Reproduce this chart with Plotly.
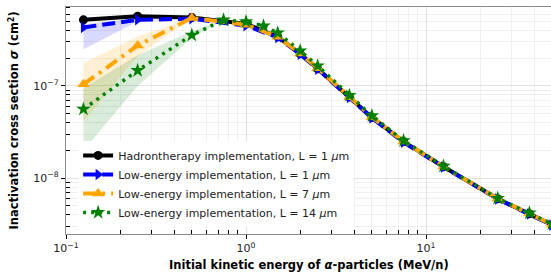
import plotly.graph_objects as go

# ---- data ----
energy = [0.125, 0.25, 0.5, 1, 1.5, 2, 2.5, 3.75, 5, 7.5, 12.5, 25, 37.5, 50]
energy_l14 = [0.125, 0.25, 0.5, 0.75, 1, 1.25, 1.5, 2, 2.5, 3.75, 5, 7.5, 12.5, 25, 37.5, 50]

sigma_hadron = [5.2e-7, 5.7e-7, 5.5e-7, 4.7e-7, 3.4e-7, 2.23e-7, 1.53e-7, 7.6e-8,
                4.55e-8, 2.49e-8, 1.33e-8, 5.98e-9, 4.11e-9, 3.13e-9]
sigma_low1 = [4.3e-7, 5.2e-7, 5.35e-7, 4.5e-7, 3.35e-7, 2.2e-7, 1.52e-7, 7.5e-8,
              4.5e-8, 2.45e-8, 1.32e-8, 5.95e-9, 4.1e-9, 3.1e-9]
sigma_low7 = [1.04e-7, 2.74e-7, 5.45e-7, 4.6e-7, 3.4e-7, 2.25e-7, 1.55e-7, 7.6e-8,
              4.6e-8, 2.5e-8, 1.33e-8, 6.0e-9, 4.15e-9, 3.15e-9]
sigma_low14 = [5.6e-8, 1.47e-7, 3.55e-7, 5.18e-7, 4.97e-7, 4.46e-7, 3.75e-7, 2.4e-7,
               1.65e-7, 7.9e-8, 4.75e-8, 2.55e-8, 1.35e-8, 6.05e-9, 4.2e-9, 3.2e-9]

band_energy_l1 = [0.125, 0.25, 0.5]
band_l1_lo = [2.5e-7, 5.0e-7, 5.35e-7]
band_l1_hi = [4.7e-7, 5.35e-7, 5.35e-7]
band_energy_l7 = [0.125, 0.25, 0.5]
band_l7_lo = [4.1e-8, 2.1e-7, 5.45e-7]
band_l7_hi = [1.77e-7, 3.43e-7, 5.45e-7]
band_energy_l14 = [0.125, 0.25, 0.5, 0.75]
band_l14_lo = [2.0e-8, 1.0e-7, 3.3e-7, 5.18e-7]
band_l14_hi = [9.5e-8, 2.15e-7, 3.9e-7, 5.18e-7]

x_tickvals = [0.1, 1, 10]
x_ticktext = ["10<sup>−1</sup>", "10<sup>0</sup>", "10<sup>1</sup>"]
x_minorvals = [0.2, 0.3, 0.4, 0.5, 0.6, 0.7, 0.8, 0.9,
               2, 3, 4, 5, 6, 7, 8, 9, 20, 30, 40, 50]
y_tickvals = [1e-8, 1e-7]
y_ticktext = ["10<sup>−8</sup>", "10<sup>−7</sup>"]
y_minorvals = [3e-9, 4e-9, 5e-9, 6e-9, 7e-9, 8e-9, 9e-9,
               2e-8, 3e-8, 4e-8, 5e-8, 6e-8, 7e-8, 8e-8, 9e-8,
               2e-7, 3e-7, 4e-7, 5e-7, 6e-7, 7e-7]

x_title = "<b>Initial kinetic energy of <i>α</i>-particles (MeV/n)</b>"
y_title = "<b>Inactivation cross section <i>σ</i> (cm<sup>2</sup>)</b>"

FONT = "DejaVu Sans"
fig = go.Figure()

def band(xs, lo, hi, color):
    fig.add_trace(go.Scatter(x=xs + xs[::-1], y=hi + lo[::-1], fill="toself",
                             fillcolor=color, line=dict(width=0), mode="lines",
                             hoverinfo="skip", showlegend=False))

band(band_energy_l1, band_l1_lo, band_l1_hi, "rgba(0,0,255,0.15)")
band(band_energy_l7, band_l7_lo, band_l7_hi, "rgba(255,165,0,0.17)")
band(band_energy_l14, band_l14_lo, band_l14_hi, "rgba(0,128,0,0.15)")

fig.add_trace(go.Scatter(x=energy, y=sigma_hadron, mode="lines+markers",
                         name="Hadrontherapy implementation, L = 1 <i>μ</i>m",
                         line=dict(color="black", width=4),
                         marker=dict(symbol="circle", size=9, color="black")))
fig.add_trace(go.Scatter(x=energy, y=sigma_low1, mode="lines+markers",
                         name="Low-energy implementation, L = 1 <i>μ</i>m",
                         line=dict(color="blue", width=4, dash="13px,6px"),
                         marker=dict(symbol="triangle-right", size=10, color="blue")))
fig.add_trace(go.Scatter(x=energy, y=sigma_low7, mode="lines+markers",
                         name="Low-energy implementation, L = 7 <i>μ</i>m",
                         line=dict(color="orange", width=4, dash="13px,6px,3px,6px"),
                         marker=dict(symbol="triangle-up", size=11, color="orange")))
fig.add_trace(go.Scatter(x=energy_l14, y=sigma_low14, mode="lines+markers",
                         name="Low-energy implementation, L = 14 <i>μ</i>m",
                         line=dict(color="green", width=3.5, dash="3px,5px"),
                         marker=dict(symbol="star", size=11, color="green")))

axis_common = dict(
    type="log", showline=True, linecolor="#8a8a8a", linewidth=1.3,
    ticks="outside", ticklen=4, tickcolor="black", tickwidth=1,
    showgrid=True, gridcolor="#e2e2e2", gridwidth=1,
    tickfont=dict(family=FONT, size=11, color="#222"),
    zeroline=False, automargin=False,
)

fig.update_xaxes(**axis_common, range=[-1, 1.694], tickmode="array",
                 tickvals=x_tickvals, ticktext=x_ticktext, mirror=True,
                 minor=dict(tickmode="array", tickvals=x_minorvals, ticks="inside",
                            ticklen=4, tickcolor="black", showgrid=True,
                            gridcolor="#efefef"))
fig.update_yaxes(**axis_common, range=[-8.605, -6.145], tickmode="array",
                 tickvals=y_tickvals, ticktext=y_ticktext,
                 minor=dict(tickmode="array", tickvals=y_minorvals, ticks="inside",
                            ticklen=4, tickcolor="black", showgrid=True,
                            gridcolor="#efefef"))

fig.add_annotation(text=x_title, xref="paper", yref="paper", x=0.5, y=0,
                   xanchor="center", yanchor="middle", yshift=-31, showarrow=False,
                   font=dict(family=FONT, size=11.5, color="black"))
fig.add_annotation(text=y_title, xref="paper", yref="paper", x=0, y=0.5,
                   xanchor="center", yanchor="middle", xshift=-52, textangle=-90,
                   showarrow=False, font=dict(family=FONT, size=11.5, color="black"))

fig.update_layout(
    width=551, height=273,
    margin=dict(l=66, r=0, t=7, b=39),
    paper_bgcolor="white", plot_bgcolor="white",
    font=dict(family=FONT, size=11, color="#222"),
    legend=dict(x=0.025, y=0.41, xanchor="left", yanchor="top",
                bgcolor="white", borderwidth=0,
                font=dict(family=FONT, size=11, color="#222"),
                itemwidth=30, tracegroupgap=0),
    showlegend=True,
)

fig.write_html("out.html", config={"displayModeBar": False},
               post_script="document.body.style.margin='0';document.body.style.overflow='hidden';")
